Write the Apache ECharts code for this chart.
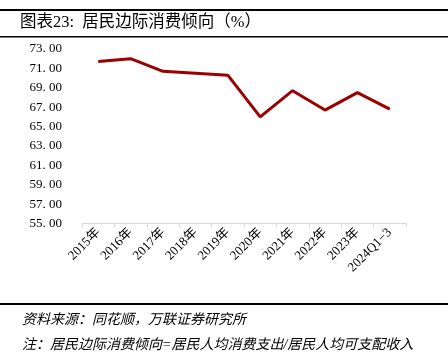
<!DOCTYPE html>
<html><head><meta charset="utf-8">
<script src="https://cdn.jsdelivr.net/npm/echarts@6/dist/echarts.min.js"></script>
<style>html,body{margin:0;padding:0;background:#fff}#c{width:448px;height:362px}</style>
</head><body><div id="c"></div>
<script>
const categories = ['2015年','2016年','2017年','2018年','2019年','2020年','2021年','2022年','2023年','2024Q1−3'];
const values = [71.7, 72.0, 70.7, 70.5, 70.3, 66.0, 68.7, 66.7, 68.5, 66.8];
const titleText = '图表23:  居民边际消费倾向（%）';
const sourceText = '资料来源：同花顺，万联证券研究所';
const noteText = '注：居民边际消费倾向=居民人均消费支出/居民人均可支配收入';
const serif = '"Liberation Serif","Noto Sans CJK SC",serif';
const chart = echarts.init(document.getElementById('c'));
chart.setOption({
  animation: false,
  grid: {left: 82, right: 42, top: 49, bottom: 138.5},
  xAxis: {
    type: 'category', data: categories, boundaryGap: true,
    axisLine: {lineStyle: {color: '#d9d9d9', width: 1}},
    axisTick: {show: true, inside: false, length: 4, lineStyle: {color: '#d9d9d9'}},
    axisLabel: {rotate: 45, color: '#000', fontSize: 13, fontFamily: serif, margin: 7, interval: 0}
  },
  yAxis: {
    type: 'value', min: 55, max: 73, interval: 2,
    axisLine: {show: false}, axisTick: {show: false}, splitLine: {show: false},
    axisLabel: {color: '#000', fontSize: 13, fontFamily: serif, margin: 20,
      formatter: v => v.toFixed(2).replace('.', '. ')}
  },
  series: [{type: 'line', data: values, symbol: 'none', lineStyle: {color: '#9b0000', width: 3}}],
  graphic: [
    {type: 'rect', shape: {x: 0, y: 9, width: 448, height: 2}, style: {fill: '#000'}},
    {type: 'rect', shape: {x: 0, y: 36, width: 448, height: 1.5}, style: {fill: '#000'}},
    {type: 'rect', shape: {x: 0, y: 303, width: 448, height: 2}, style: {fill: '#000'}},
    {type: 'text', left: 20, top: 14, style: {text: titleText, fontSize: 16.5, fill: '#000', fontFamily: serif}},
    {type: 'text', left: 22, top: 313, style: {text: sourceText, fontSize: 14, fontStyle: 'italic', fill: '#000', fontFamily: serif}},
    {type: 'text', left: 22, top: 338, style: {text: noteText, fontSize: 14, fontStyle: 'italic', fill: '#000', fontFamily: serif}}
  ]
});
</script></body></html>
